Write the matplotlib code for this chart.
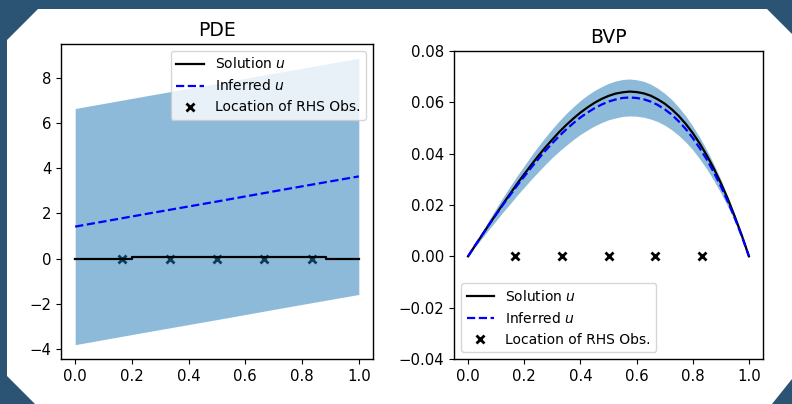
import numpy as np
import matplotlib
matplotlib.use('Agg')
import matplotlib.pyplot as plt
from matplotlib.patches import Polygon

# locations of RHS observations (both panels)
obs_x = [1/6, 2/6, 3/6, 4/6, 5/6]
obs_y = [0, 0, 0, 0, 0]

# PDE panel
pde_sol_x = [0.0, 0.2, 0.2, 0.885, 0.885, 1.0]
pde_sol = [0.0, 0.0, 0.08, 0.08, 0.0, 0.0]
pde_inf_x = [0.0, 0.25, 0.5, 0.75, 1.0]
pde_inf = [1.42, 1.98, 2.53, 3.09, 3.64]
pde_band = [5.22, 5.22, 5.22, 5.22, 5.22]

# BVP panel, read every 0.025
bvp_x = [0.0, 0.025, 0.05, 0.075, 0.1, 0.125, 0.15, 0.175, 0.2, 0.225, 0.25,
         0.275, 0.3, 0.325, 0.35, 0.375, 0.4, 0.425, 0.45, 0.475, 0.5,
         0.525, 0.55, 0.575, 0.6, 0.625, 0.65, 0.675, 0.7, 0.725, 0.75,
         0.775, 0.8, 0.825, 0.85, 0.875, 0.9, 0.925, 0.95, 0.975, 1.0]
bvp_sol = [0.0, 0.0042, 0.0083, 0.0124, 0.0165, 0.0205, 0.0244, 0.0283, 0.032, 0.0356, 0.0391,
           0.0424, 0.0455, 0.0485, 0.0512, 0.0537, 0.056, 0.058, 0.0598, 0.0613, 0.0625,
           0.0634, 0.0639, 0.0642, 0.064, 0.0635, 0.0626, 0.0612, 0.0595, 0.0573, 0.0547,
           0.0516, 0.048, 0.0439, 0.0393, 0.0342, 0.0285, 0.0223, 0.0154, 0.008, 0.0]
bvp_inf = [0.0, 0.0042, 0.0083, 0.0124, 0.0163, 0.0202, 0.0239, 0.0276, 0.0311, 0.0346, 0.0379,
           0.0411, 0.0441, 0.0469, 0.0495, 0.0519, 0.0541, 0.056, 0.0577, 0.0591, 0.0603,
           0.0611, 0.0617, 0.0619, 0.0617, 0.0612, 0.0603, 0.059, 0.0573, 0.0552, 0.0526,
           0.0496, 0.0461, 0.0421, 0.0377, 0.0327, 0.0273, 0.0213, 0.0148, 0.0077, 0.0]
bvp_band = [0.0, 0.0006, 0.0012, 0.0018, 0.0024, 0.0029, 0.0034, 0.0038, 0.0042, 0.0046, 0.005,
            0.0053, 0.0056, 0.0059, 0.0062, 0.0064, 0.0066, 0.0068, 0.0069, 0.007, 0.0071,
            0.0072, 0.0072, 0.0072, 0.0071, 0.007, 0.0068, 0.0065, 0.0062, 0.0059, 0.0055,
            0.0051, 0.0046, 0.0042, 0.0037, 0.0032, 0.0026, 0.002, 0.0013, 0.0007, 0.0]

legend_labels = ['Solution $u$', 'Inferred $u$', 'Location of RHS Obs.']

plt.rcParams['font.size'] = 10.7
plt.rcParams['axes.linewidth'] = 1.0

W, H = 792, 404
fig = plt.figure(figsize=(W / 100, H / 100), dpi=100, facecolor='#2a5374')

# white slide panel with chamfered corners, kept behind the axes
corners = [(38, 9), (767, 9), (792, 34), (792, 379), (772, 404),
           (35, 404), (7, 376), (7, 40)]
panel = Polygon([(px / W, 1 - py / H) for px, py in corners], closed=True,
                transform=fig.transFigure, facecolor='white', edgecolor='none', zorder=-10)
fig.patches.append(panel)

ax1 = fig.add_axes([61 / W, 1 - 359 / H, 312 / W, 315 / H])
ax2 = fig.add_axes([454 / W, 1 - 359 / H, 309 / W, 308 / H])

# --- PDE ---
inf1 = np.array(pde_inf)
b1 = np.array(pde_band)
obs1, = ax1.plot(obs_x, obs_y, 'kx', ms=6, mew=2, zorder=1)
ax1.fill_between(pde_inf_x, inf1 - b1, inf1 + b1, color='tab:blue', alpha=0.5, lw=0, zorder=2)
sol1, = ax1.plot(pde_sol_x, pde_sol, 'k-', lw=1.6, zorder=3)
inf1_line, = ax1.plot(pde_inf_x, pde_inf, 'b--', lw=1.6, zorder=4)
ax1.set_xlim(-0.05, 1.05)
ax1.set_yticks([-4, -2, 0, 2, 4, 6, 8])
ax1.set_title('PDE', fontsize=13.5)
ax1.legend([sol1, inf1_line, obs1], legend_labels, loc='upper right', fontsize=10)

# --- BVP ---
inf2 = np.array(bvp_inf)
b2 = np.array(bvp_band)
ax2.fill_between(bvp_x, inf2 - b2, inf2 + b2, color='tab:blue', alpha=0.5, lw=0, zorder=1)
sol2, = ax2.plot(bvp_x, bvp_sol, 'k-', lw=1.6, zorder=3)
inf2_line, = ax2.plot(bvp_x, bvp_inf, 'b--', lw=1.6, zorder=4)
obs2, = ax2.plot(obs_x, obs_y, 'kx', ms=6, mew=2, zorder=5)
ax2.set_xlim(-0.05, 1.05)
ax2.set_ylim(-0.04, 0.08)
ax2.set_yticks([-0.04, -0.02, 0.0, 0.02, 0.04, 0.06, 0.08])
ax2.set_title('BVP', fontsize=13.5)
ax2.legend([sol2, inf2_line, obs2], legend_labels, loc='lower left', fontsize=10)

for ax in (ax1, ax2):
    ax.set_xticks([0.0, 0.2, 0.4, 0.6, 0.8, 1.0])

fig.savefig('out.png', dpi=100, facecolor=fig.get_facecolor())
